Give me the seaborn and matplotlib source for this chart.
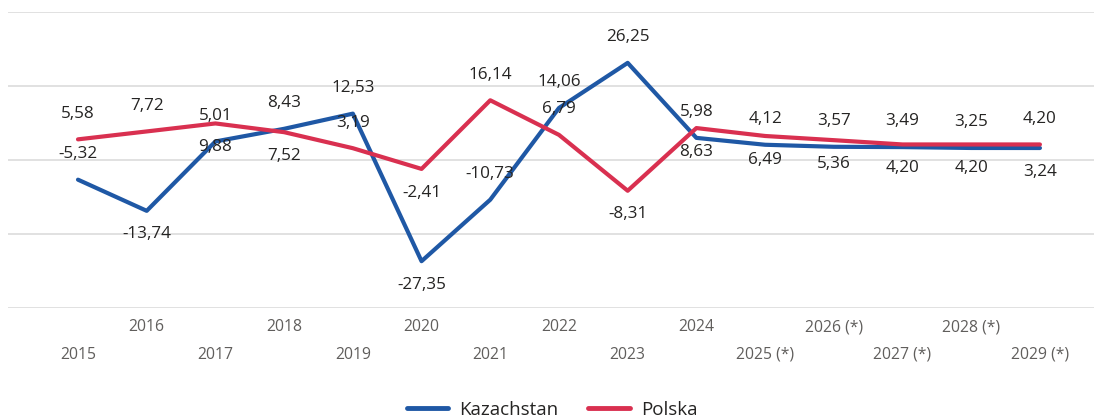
import pandas as pd
import matplotlib
matplotlib.use('Agg')
import matplotlib.pyplot as plt
import seaborn as sns

years = ['2015', '2016', '2017', '2018', '2019', '2020', '2021', '2022',
         '2023', '2024', '2025 (*)', '2026 (*)', '2027 (*)', '2028 (*)', '2029 (*)']
kazachstan = [-5.32, -13.74, 5.01, 8.43, 12.53, -27.35, -10.73, 14.06,
              26.25, 5.98, 4.12, 3.57, 3.49, 3.25, 3.24]
polska = [5.58, 7.72, 9.88, 7.52, 3.19, -2.41, 16.14, 6.79,
          -8.31, 8.63, 6.49, 5.36, 4.20, 4.20, 4.20]

# strona etykiety: 1 = nad punktem, -1 = pod punktem
kaz_side = [1, -1, 1, 1, 1, -1, 1, 1, 1, 1, 1, 1, 1, 1, -1]
pol_side = [1, 1, -1, -1, 1, -1, 1, 1, -1, -1, -1, -1, -1, -1, 1]

COLORS = {'Kazachstan': '#1F58A5', 'Polska': '#D93050'}
W, H = 1094, 420

sns.set_theme(style='white')
plt.rcParams['font.family'] = ['Open Sans', 'DejaVu Sans']

pos = list(range(len(years)))
df = pd.concat([
    pd.DataFrame({'pos': pos, 'value': kazachstan, 'kraj': 'Kazachstan'}),
    pd.DataFrame({'pos': pos, 'value': polska, 'kraj': 'Polska'}),
])

fig = plt.figure(figsize=(W / 100, H / 100), dpi=100)
ax = fig.add_axes([8 / W, 1 - 308 / H, (W - 8) / W, 296 / H])

sns.lineplot(data=df, x='pos', y='value', hue='kraj', palette=COLORS,
             linewidth=3, ax=ax, sort=False)

# siatka pozioma
for y in [-40, -20, 0, 20, 40]:
    ax.axhline(y, color='#DEDEDE', linewidth=1.3, zorder=0)

step = 68.71
ax.set_xlim(-70 / step, (W - 78) / step)
ax.set_ylim(-40, 40)
sns.despine(ax=ax, left=True, bottom=True)
ax.set_yticks([])
ax.set_xlabel('')
ax.set_ylabel('')

# etykiety osi X w dwóch rzędach
ax.set_xticks(pos[0::2])
ax.set_xticklabels(years[0::2])
ax.set_xticks(pos[1::2], minor=True)
ax.set_xticklabels(years[1::2], minor=True)
ax.tick_params(axis='x', which='major', length=0, pad=28, labelsize=11.3, labelcolor='#605E5C')
ax.tick_params(axis='x', which='minor', length=0, pad=8, labelsize=11.3, labelcolor='#605E5C')

# etykiety danych
def fmt(v):
    return f'{v:.2f}'.replace('.', ',')

for values, sides in [(kazachstan, kaz_side), (polska, pol_side)]:
    for x, v, s in zip(pos, values, sides):
        off = 18.5 if s > 0 else -17
        ax.annotate(fmt(v), (x, v), xytext=(0, off), textcoords='offset points',
                    ha='center', va='center', fontsize=12.3, color='#252423')

sns.move_legend(ax, 'center', bbox_to_anchor=((552 - 8) / (W - 8), (308 - 410) / 296),
                ncol=2, frameon=False, title=None, fontsize=13.5,
                handlelength=2.2, handletextpad=0.6, columnspacing=1.6)
for line in ax.get_legend().get_lines():
    line.set_linewidth(3.5)
for t in ax.get_legend().get_texts():
    t.set_color('#252423')

fig.savefig('out.png', dpi=100)
